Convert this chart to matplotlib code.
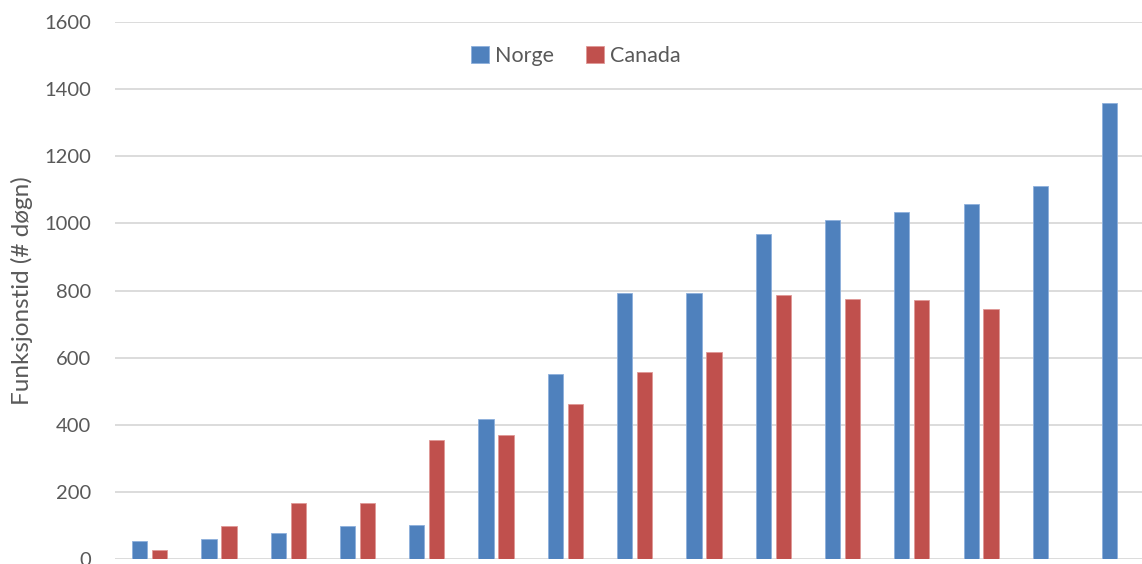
import numpy as np
import matplotlib
matplotlib.use("Agg")
import matplotlib.pyplot as plt

categories = [str(i) for i in range(1, 16)]
norge = [55, 61, 78, 99, 103, 418, 551, 793, 793, 968, 1009, 1033, 1058, 1112, 1357]
canada = [29, 99, 168, 168, 354, 369, 462, 556, 616, 788, 776, 773, 746, np.nan, np.nan]
y_ticks = [0, 200, 400, 600, 800, 1000, 1200, 1400, 1600]

W, H = 1142, 564
fig = plt.figure(figsize=(W / 100, H / 100), dpi=100)
plt.rcParams['font.family'] = ['Lato', 'DejaVu Sans']

left = 115 / W
width = 15 * 69.29 / W
bottom = (H - 559.3) / H
top = (H - 21.7) / H
ax = fig.add_axes([left, bottom, width, top - bottom])

x = np.arange(len(categories))
bw = 0.22
off = 0.144
blue = '#4F81BD'
red = '#C0504D'
ax.bar(x - off, norge, bw, color=blue, edgecolor='#8DB0DC', linewidth=0.6, label='Norge', zorder=3)
ax.bar(x + off, canada, bw, color=red, edgecolor='#E09896', linewidth=0.6, label='Canada', zorder=3)

ax.set_xlim(-0.5, len(categories) - 0.5)
ax.set_ylim(0, 1600)
ax.set_yticks(y_ticks)
ax.set_yticklabels([str(t) for t in y_ticks])
ax.set_xticks([])
ax.yaxis.grid(True, color='#D9D9D9', linewidth=1.3, zorder=0)
ax.set_axisbelow(True)
for s in ax.spines.values():
    s.set_visible(False)
ax.tick_params(axis='y', length=0, pad=17, labelsize=14.5, labelcolor='#595959')
for lbl in ax.get_yticklabels():
    lbl.set_clip_on(False)

ax.set_ylabel('Funksjonstid (# døgn)', fontsize=17.5, color='#595959', va='center')
ax.yaxis.set_label_coords((22 - 115) / (15 * 69.29), 0.5)

fig.legend(loc='center', bbox_to_anchor=(576 / W, 1 - 56 / H), ncol=2, frameon=False,
           fontsize=15.5, labelcolor='#595959', handlelength=0.8, handleheight=0.8,
           handletextpad=0.3, columnspacing=1.5, borderpad=0)

fig.savefig('out.png', dpi=100)
